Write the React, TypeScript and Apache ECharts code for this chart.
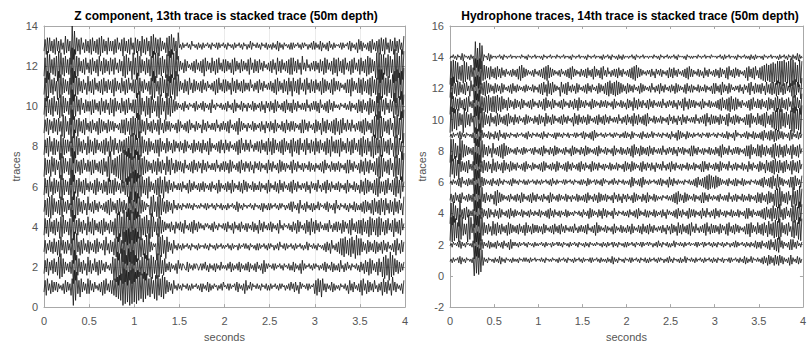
import { useEffect, useRef } from "react";
import * as echarts from "echarts";

// Sample spacing of the traces, in seconds.
const DT = 0.0125;

// Each trace is stored as one character per sample: 'm' is the trace's
// baseline, every letter away from it is 1/12 of a trace spacing
// ('a' = -1, 'y' = +1). Spaces only separate 0.125 s blocks.
const Z_TRACES: string[] = [
  "jqhrkoiqjp kpjolnkoiq jpkohrbwev iqgrjpkoir iqkojplnko jphqirkojq iqhrgsfteu bxcwdvbwcx dvcwevfudv fuhrgsiqft ethrgtfsiq jpkoiqlnko lnkomnlokn kolnmolnko jolnkpjokn lomnknlokp mnlokolnmo kpjolnkoiq knlpkomnlo lnkomnlokn kolnmolnko lomnknlokp lojpkniplo mnlokolnmo iqhrjqgrko jolnkpjokn lnkomnlokn iqkojplnko jqhrkoiqjp kojqlnjokp hrjpiqkohs kpjolnkoiq",
  "iqjrhpkqir jphsfugrip kojpiqcwet hrjpiqkohs jqiokrjphq iqkojplnko iserdvbuex cwdtbxevcw dtfrgqhsfu ethrgtfsiq fugtiqhrjo kpjolnkoiq lokonlkpjo lnkolonkmo kolpknjoln kojolnkpln lnkolpjokn lokpjolnko kpjolnkojp lnkoiqjolo mnlokolnmo lnkomnlokn kpjolnkoiq kolnmolnko lomnknlokp jolnkpjokn kojqlnjokp lnkomnlokn jpkoiqjphr iqkojphrjp gsfthrevgt hrjqipjokp",
  "jqiokqjpir jphqgskqip iqkohrcveu jphqirkojq ipkojqirjp lokqhskoiq jphrgseuiq dvcwbxdvcw bxdvesgrhq fteujpkomo euhsgtiqfs jpkoiqlnko lnkolnmoln komnlnkoln mnlolnkomn lnkolnmoln lnmolnkoln mnkolnmolo lnkomnlnko kolnmolnko lomnknlokp mnlokolnmo lnkolnmoln knlpkomnlo lnkomnlnko jpkoiqlnko jpirhrgsiq hrgsiqfthr hrjpkoiqjp kojqipjokp iqkojplnko jqhrkoiqjp",
  "hriqgrjpiq hrjpfsgtiq jphrcwetiq hrjpiqkohs jpirhqkojp iqhrjpkoiq jphrfudvgs cwdvbxcwev cxdvfterhs gtiqfugsjp hrgsiqjpko lojpkniplo kpjoiqlnko jpiqkojplo lnkomolnko jplnkomnlo kojplnkoip lnkojplnko jolnkpjokn iqkojplnko kpjolnkoiq lnkomnlokn jpkoiqjpln koiqjphrjp iqkojplnko kojqlnjokp jpkoiqjplo iqhrkojpiq iqhrjpiqgs hrjqhrgshr jphqirkojq grjpiqhrko",
  "jqhrgsfthr jpiqhsgrjp iqkogsdvfs hrjpiqkohs kojpiqkojp lnkojpiqhr jpkoiqhrjp iqkogseviq evfugsiqjp komnhsgtjp gsfthrjpiq jpkoiqlnko lnkomnlolo lnkomnlnlo mnlokolnmo lnkomnlokn lnkolnmoln kpjolnkomn lnmolnkomn lnkojolnko kolnmolnko lomnknlokp jplnkoiqln kojplnkojo knlpkomnlo kpjolnkoiq lnkomnlokn jolnkpjokn kojpiqjpko iqhrjpiqhr jqhrkoiqjp hrjpiqkohs",
  "hriqgsjphr iqjpfterhq jphrbwetiq grjpiqhrko jpkoiqhrjp koiqjphriq iqhrjpkoiq jphrgscuev dwcuftgsiq hrfsjpkoiq hrgsiqfsjp iqkojplnko kojplnkoiq jokplnkojo kpjolnkojp lnkoiqjoln kojpkoiqjo lnkpjoiqkp jolnkpjokn kpjolnkoiq jolnkpjoiq kojplnkojp iqkojplnko lojpkniplo kojqlnjokp iqkojplnko kpjolnkoiq jolnkpjokn iqjphriqjp koiqhrgsip jphqirkojq hrgsiqfsjp",
  "grhqiqgsjr hqkpfuesir jphrbxdviq jphqirkojq jphqiqkojp iqhrjpgsdv iqhrgsfteu cwdvbxdufs cwdvftgrhs iqjpkoiqjp hrjpiqkohs jqhrkoiqjp kpjoiqlnko jpiqkojplo iqkojplnko kojqlnjokp jpkoiqjpln kojpiqkojp lojpkniplo kpjolnkoiq kojplnkoiq jpkojolnkp iqkojplnko jolnkpjokn jolnkojpiq kolnjpkojo kpjolnkoiq iqkojplnko iqjphrjpiq kojphrgsft grjpiqhrko gsfthrevdu",
  "hqirgsjphr hqjpetfrhq iqjpgscwfs hrjpiqkohs iqjphriqko jpiqhrjpgs jqhrkoiqjp iqhrgsfteu fthrevgsiq jphrjpkoiq iqgrjpkoir jpkoiqjplo jpkoiqjpln koiqjokpjo iqkojphrjo lnkojpiqko iqkojplnko jphqirkojq kojqlnjokp jpiqkojphr jphriqkojp iqhrjpkoiq grjpiqhrko jqhrkoiqjp hrjpiqkojp hriqgsjpiq iqgrjpkoir jphqirkojq hrgsiqhrjp gsfthriqgs grjpiqhrko gsfthrjpeu",
  "iqjrhqkpir jqhrjpgtfs jphrcwfsiq grjpiqhrko jpiqkojphr iqjpkoiqjp kpjolnkoiq iqhrjphrgs hreuftiqjp hrkojpiqko jqhrkoiqjp kpjolnkoiq jplnkojpiq kolnjpkoln iqkojplnko kojqlnjokp kojpiqlnko jphrjpkoln jolnkpjokn lojpkniplo jpkoiqjoln kpjoiqkojp kpjolnkoiq iqkojplnko iqjpkohrjp iqkojpiqhr jphqirkojq kojqlnjokp jpiqhrjpko iqgsftevfs grjpiqhrko gsfthrevcw",
  "hrgsiqhrgs jphrftgsir jphrbwetgs jqhrkoiqjp jphqiqkojp hrjpiqkohr iqgrjpkoir jphqirkojq iqfuevhrjp gshrfsiqjp gsfthrjpeu hrgsiqjpko lnkojplnko mnlojpknlo kpjolnkoiq lnkomnlokn kojplnkoiq jolnkpjoln jolnkpjokn lojpkniplo jpkoiqjpln kojpiqkojo iqkojplnko kojqlnjokp kpjoiqlnko jpiqkojpln lnkomnlokn kpjolnkoiq jpiqkojphr iqjpgseufs jqhrkoiqjp fuhrgsevft",
  "hrdvfuiqhr jpevfthriq jphrbxdvgs hrjpiqkohs jpiqhrkojp iqhrjpiqkp iqgrjpkoir jphqirkojq iqfuhrjpiq kojphrevfs jphrgsiqft gsfthrevgt jpkoiqjphr koiqjpkojp iqkojplnko jphqirkojq iqjpkohrjp iqkojpiqjo kojqlnjokp iqkojplnko kpjoiqhrjp koiqjphrjp grjpiqhrko jqhrkoiqjp iqkojphriq jpkoiqhrjp kpjolnkoiq iqgrjpkoir iqhrjpiqhr gsiqhrcwew fuhrgsiqft dvcwfuevbx",
  "grcvetiqhr gsdvfuhrgs iqhrbxcwfs grjpiqhrko iqhrjpiqgs jphriqjphr jqhrkoiqjp gsfthrjpeu hrevgsiqjp hriqgsdvcu fuhrgsiqft dvcwfuevgs jpkoiqjpln kojpiqkojp iqgrjpkoir jphqirkojq iqjpkoiqhr jpkoiqjpko jqhrkoiqjp iqkojplnko jpiqkohrjp iqkojpiqhr hrjpiqkohs kojqlnjokp jpkoiqjphr iqkojphriq grjpiqhrko jphqirkojq hrjpiqgshr iqjpfueuct ethrgtfsiq cwdufsbwev",
  "jqhrirjpiq hrjpiqkohs iqjpbyevhr jqhrkoiqjp iqhrjpiqhr gsiqjphrjp jphqirkojq grjpiqhrko hriqjpgsiq hrjpgsfthr iqgrjpkoir gsfthrjpeu lnkolnmoln kpmnlnkoln kolnmolnko mnlokolnmo lnkomnlnko lnmolnkomn knlpkomnlo lnkomnlokn lnkolnkpjo lnkomnlnko kolnmolnko lomnknlokp kolnkpjoln kojplnkoln mnlokolnmo kpjolnkoiq kpjolnkojp iqkojpiqhr jqhrkoiqjp hrjpiqkohs",
];

const H_TRACES: string[] = [
  "lnkolnmokp jolnkomnln koaxcwbvdu iolnkomnln kolnkpjoln komnlnkoln lnkomnlolo lnkolnmoln mnlolnkomn lnlomnlnko lnmolnkomn lnkolnmoln kolnmnloko lnmolnkoln lnkolnkpjo lnkomnlnko mnlokolnmo lnkomnlokn kolnmolnko lomnknlokp lnkomnlnko knlpkomnlo lnkolnmoln kolnmolnko lnkomnlokn mnlokolnmo lnkolnkpjo knlpkomnlo lnkojpkoiq jpkoiqjpiq kpjolnkoiq jolnkpjokn",
  "lnkomnlokp jolnkomnln kpbvdwcviq jolnkpjokn kojplnkojp lnkoiqjolo lnkolnmoln komnlnkoln lnmolnkoln mnkolnmolo lnkomnlnko lnmolnkomn lnkolnkomn lnlomnlnko lnkolnmoko lnkomnlnko kolnmolnko mnlokolnmo lomnknlokp lnkomnlokn knlpkomnlo lnkolnmoln mnlokolnmo kolnmolnko lnkomnlokn lomnknlokp kolnmolnko lnkolnkpjo kojplnkojp iqkoiqhrgs kpjolnkoiq iqkojplnko",
  "dvcwdufrcx evhqiqcxev jqbxcwaxdv hrjpiqkohs iqhrjpiqko jphriqjpko jpiqkojphr jpkoiqjpkp jokoiqjpln kojpiqkojp iqkojplnko kojqlnjokp kojpiqlnko jphrjpkoln kpjolnkoiq jolnkpjokn jpkoiqjoln kpjoiqkojp iqkojplnko lojpkniplo iqjpkohrjp iqkojpiqhr kojqlnjokp jqhrkoiqjp jpkoiqjplo iqhrkojpiq kpjolnkoiq iqgrjpkoir jpiqhrjpgs iqhrftgseu grjpiqhrko gsfthrevdu",
  "eudvfshqcw jpiqhrjpko kpbwdvcxiq jpkoiqjpln jpkoiqjpln kojpiqkojp kolnkpjoln kojplnkoln kpjolnkojp iqkojplnko jolnkpjokn lnkomnlokn jplnkoiqjp kolnjpkoiq kpjolnkoiq lnkomnlokn kojplnkojp iqkolnkpjo jolnkpjokn lojpkniplo lnkojpiqko jplnkoiqjp kpjolnkoiq kojqlnjokp iqkojplnko jolnkpjokn kpjolnkoiq iqkojplnko kojpiqhrjp iqgsiqhrft jphqirkojq gsfthrevgt",
  "kpjoiqkojp iqlnkojpko jpcwbxevdu jpiqkojplo hrgsiqjpko lnkojplnko jpkoiqjpln kojpiqkojp lnkojplnko iqjplnkojp kolnkpjoln jolnkpjokn kojpiqkoln jpkoiqjpko kpjolnkoiq lojpkniplo jplnkoiqjp kolnjpkoiq jolnkpjokn lnkomnlokn kojpiqhrjp koiqjpkoln kpjolnkoiq iqkojplnko lnkojplnko kojqlnjokp jolnkpjokn kpjolnkoiq jpiqkojphr iqjpgsfteu grjpiqhrko fuhrgsevft",
  "lnkolnkojp iqlnkojpko kpbwdvcwiq jpkolnkojp lnkojplnko mnlnkojplo lnkomnlokn kolnmolnko lnkolnmoln kojplnkoln mnlokolnmo lnkomnlnko kolnjpkoln mokolnkojp lomnknlokp lnkomnlokn lnkoiqjpln kojpiqkoln kolnmolnko kpjolnkoiq kojplnkoln lnkomnlokn kojpiqkojp iqhrgshriq hriqjpkoln kojplnkojp jolnkpjokn lnkomnlokn kojpiqkojp iqhrjpgsiq kpjolnkoiq iqgrjpkoir",
  "evgsdufrcw iqjpiqhrko jqbxcwdviq hrjpiqkohs jpiqkojphr jpkoiqjpko jplnkojpiq kolnjpkoln kojpiqjpln kojpkoiqjp lnkojpiqko jplnkojpiq kojplnkoiq jpkojplnko jolnkpjokn kpjolnkoiq jpkoiqjpko lnjpiqkojp lojpkniplo kojqlnjokp iqkojplnko jolnkpjokn kpjolnkoiq iqkojplnko jpkoiqjplo kojqlnjokp jolnkpjokn iqkojplnko iqjpkohrjp iqhrgsiqhr jphqirkojq grjpiqhrko",
  "dvevgshqcw fuhriqjpko jpbwcvaxdu hrjpiqkohs kojpiqhrgs iqjpkolnko jplnkojpko lnmokojpln kojpiqkoln jpkoiqjpko lnkojplnko iqjpkolnjp koiqjpkoln kojpiqkoln kpjolnkoiq jolnkpjokn jpkoiqhrjp koiqjpkojp iqkojplnko kojqlnjokp lojpkniplo kpjolnkoiq iqkojplnko jolnkpjokn jpkoiqhrjp kojqlnjokp kpjolnkoiq iqgrjpkoir iqhrjpiqko jphrgsiqhr jphqirkojq grjpiqhrko",
  "lnkolnmokp jolnkomnln kogserdviq kolnkpjoln jpkoiqlnko jolnkomnln kolnmolnko jplnkomnlo lnkojplnko mnlnkojolo lnkomnlokn mnlokolnmo kpjolnkojp iqkolnmoln kolnmolnko lomnknlokp kolnjpkomn lnkojplnko knlpkomnlo lnkomnlokn jplnkoiqjp kolnjpkoln kolnmolnko mnlokolnmo lnkomnlokn kpjolnkoiq lomnknlokp jolnkpjokn kojpiqkojp iqjphriqjp kpjolnkoiq jolnkpjokn",
  "cwdvfueuhr iqcvgsiqhr kpcwbxdwcv gsiqjphrko jphriqkojp iqhrjpkoiq kojplnkoiq jpkolnjpko iqjpkohrjp koiqjplnko jpiqkojpln kohrjpiqko jpkoiqjpln kojpiqkojp iqkojplnko kojqlnjokp iqkojphrjp iqkojpiqhr jolnkpjokn kpjolnkoiq lojpkniplo iqkojplnko kojqlnjokp jqhrkoiqjp jpkoiqjplo iqhrkojpiq kpjolnkoiq iqgrjpkoir jpiqhrgsjp iqgsftevdu fuhrgsiqft dvcwfuevbx",
  "evgsfriqhr jpiqhrgsko jpcwduaxfs hrgsfthrgs gsfthrgsiq jphrjpkoiq jpkoiqjpln kojpiqkoln jpkoiqhrjp koiqjplnko jpiqkolnjp koiqjphrjp kojplnkoiq jpkolnjpko kpjolnkoiq jolnkpjokn iqjpkohrjp iqkojplnjp iqkojplnko kojqlnjokp lojpkniplo jqhrkoiqjp kpjolnkoiq jolnkpjokn kojpiqhrjp iqhrgsiqhr iqkojplnko jphqirkojq jpiqkojphr iqjphrgsiq grjpiqhrko gsfthrjpeu",
  "fueviqgshr jpiqhrkogs kpbvdwcviq hrgsiqjpko iqjpkoiqjp lnkojpiqko jpkolnkojp kolnkpjoln jpiqhrjpgs iqhrjpkoln grjpiqhrko jpkoiqjpln kojpiqkojp lnkoiqjpko iqhrgsiqhr gshriqjpko iqjpkojpln koiqjpkoln kojqlnjokp iqkojplnko jpkoiqjpko lnjpiqkojp jolnkpjokn kpjolnkoiq iqkojphrjp koiqjplnko lojpkniplo jqhrkoiqjp jpiqkohrjp iqhriqgshr jphqirkojq gsfthrjpeu",
  "dvcwevfuhr gsevfuhrgs jqbxcwaxdv gshriqhrjp iqhrjpiqko jplnkojpko jphrgsiqjp kolnkojpln kojpiqhrgs iqjpkolnko jplnkojpiq hrjpkolnjp kojpiqkojp hrjpkoiqhr kojqlnjokp jpiqkojpln kojpiqhrgs iqjpkolnko lojpkniplo kpjolnkoiq jpiqkojpln kojpiqhrjp jolnkpjokn iqkojplnko jpkoiqjplo iqhrkojpiq kpjolnkoiq grjpiqhrko iqhrgsftgs fteuftdvev dvcwfuevbx cwdufsbwev",
  "lnmolnkomn kpjomnlnko lncyetbxdv jomnkpjoln mnlnmolnko mnlnmolnmn lnmnlomnln komnlnmoln mnlnkomnln molnmnlomn lnmolnmnln komnlnmoln mnlnkomnln molnmnlnko lnmolnkomn lnkolnkoln mnlnmolnko mnlnmolnmn lnmnlomnln komnlnmoln lnmolnkomn mnlnkomnln lnmnlomnln molnmnlomn mnlnmolnko lnmolnmnln komnlnmoln lnkolnkoln mnlnkomnln molnmnlnko lnmolnkomn kolnkpjoln",
];

const LEFT_TITLE = "Z component, 13th trace is stacked trace (50m depth)";
const RIGHT_TITLE = "Hydrophone traces, 14th trace is stacked trace (50m depth)";
const X_NAME = "seconds";
const Y_NAME = "traces";

const FONT = '"Liberation Sans", Arial, Helvetica, sans-serif';
const AXIS_GRAY = "#a8a8a8";
const LABEL_GRAY = "#555555";

function decodeTrace(code: string, baseline: number): [number, number][] {
  const samples = code.replace(/\s+/g, "");
  return Array.from(samples, (ch, i) => [
    +(i * DT).toFixed(4),
    baseline + (ch.charCodeAt(0) - 109) / 12,
  ]);
}

function traceSeries(codes: string[], axisIndex: number) {
  return codes.map((code, i) => ({
    type: "line" as const,
    xAxisIndex: axisIndex * 2,
    yAxisIndex: axisIndex * 2,
    data: decodeTrace(code, i + 1),
    showSymbol: false,
    symbol: "none",
    silent: true,
    clip: true,
    lineStyle: { color: "#151515", width: 0.8 },
  }));
}

function xAxes(gridIndex: number, withGrid: boolean) {
  const common = {
    gridIndex,
    type: "value" as const,
    min: 0,
    max: 4,
    interval: 0.5,
    axisLine: { show: true, onZero: false, lineStyle: { color: AXIS_GRAY, width: 1 } },
    axisTick: { show: true, inside: true, length: 3, lineStyle: { color: AXIS_GRAY } },
  };
  return [
    {
      ...common,
      position: "bottom" as const,
      axisLabel: { color: LABEL_GRAY, fontSize: 11, fontFamily: FONT, margin: 8 },
      splitLine: { show: withGrid, lineStyle: { color: "#ebebeb", width: 1 } },
      name: X_NAME,
      nameLocation: "middle" as const,
      nameGap: 22,
      nameTextStyle: { color: LABEL_GRAY, fontSize: 11, fontFamily: FONT },
    },
    {
      ...common,
      position: "top" as const,
      axisLabel: { show: false },
      splitLine: { show: false },
    },
  ];
}

function yAxes(gridIndex: number, min: number, max: number, withGrid: boolean) {
  const common = {
    gridIndex,
    type: "value" as const,
    min,
    max,
    interval: 2,
    axisLine: { show: true, onZero: false, lineStyle: { color: AXIS_GRAY, width: 1 } },
    axisTick: { show: true, inside: true, length: 3, lineStyle: { color: AXIS_GRAY } },
  };
  return [
    {
      ...common,
      position: "left" as const,
      axisLabel: { color: LABEL_GRAY, fontSize: 11, fontFamily: FONT, margin: 6 },
      splitLine: { show: withGrid, lineStyle: { color: "#ebebeb", width: 1 } },
      name: Y_NAME,
      nameLocation: "middle" as const,
      nameGap: 20,
      nameTextStyle: { color: LABEL_GRAY, fontSize: 11, fontFamily: FONT },
    },
    {
      ...common,
      position: "right" as const,
      axisLabel: { show: false },
      splitLine: { show: false },
    },
  ];
}

export default function App() {
  const ref = useRef<HTMLDivElement>(null);

  useEffect(() => {
    if (!ref.current) return;
    const chart = echarts.init(ref.current, undefined, { renderer: "svg" });
    chart.setOption({
      animation: false,
      backgroundColor: "#ffffff",
      grid: [
        { left: 44, top: 26, width: 361, height: 283 },
        { left: 450, top: 26, width: 360, height: 283 },
      ],
      xAxis: [...xAxes(0, true), ...xAxes(1, false)],
      yAxis: [...yAxes(0, 0, 14, true), ...yAxes(1, -2, 16, false)],
      series: [...traceSeries(Z_TRACES, 0), ...traceSeries(H_TRACES, 1)],
      graphic: [
        {
          type: "text",
          x: 226,
          y: 16,
          style: {
            text: LEFT_TITLE,
            align: "center",
            verticalAlign: "middle",
            font: `bold 12px ${FONT}`,
            fill: "#000000",
          },
        },
        {
          type: "text",
          x: 630,
          y: 16,
          style: {
            text: RIGHT_TITLE,
            align: "center",
            verticalAlign: "middle",
            font: `bold 12px ${FONT}`,
            fill: "#000000",
          },
        },
      ],
    });
    return () => chart.dispose();
  }, []);

  return (
    <div
      ref={ref}
      style={{ position: "fixed", left: 0, top: 0, width: 809, height: 347, background: "#fff" }}
    />
  );
}
